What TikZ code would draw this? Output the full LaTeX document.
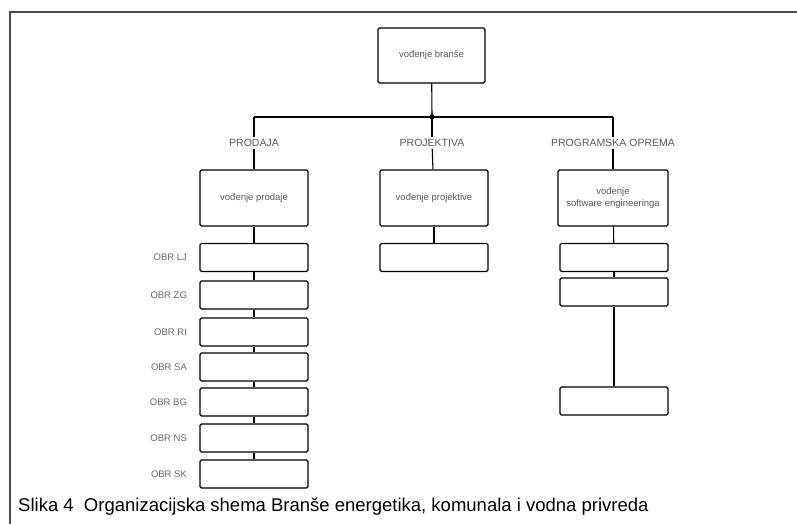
\documentclass[tikz,border=0pt]{standalone}
\usepackage{fontspec}
\setmainfont{Liberation Sans}
\usetikzlibrary{positioning}

\begin{document}
\begin{tikzpicture}[x=1pt,y=-1pt,
  box/.style={draw, line width=1.1pt, rounded corners=1.5pt, minimum width=108pt,
              minimum height=28pt, inner sep=1pt, align=center, text=black!65,
              font=\fontsize{9.5}{12}\selectfont},
  sect/.style={font=\fontsize{10.5}{12}\selectfont, inner sep=2pt, text=black!65},
  lbl/.style={font=\fontsize{9.5}{11}\selectfont, anchor=east, text=black!60},
  link/.style={line width=1.1pt}]
\useasboundingbox (0,0) rectangle (797,524);

% frame of the page
\draw[line width=1.2pt, black!70] (797,12) -- (10,12) -- (10,524);

% top of the tree
\node[box, minimum width=107pt, minimum height=55pt] (vodbr) at (431.5,55.5) {vođenje branše};
\coordinate (busM) at (432,117);
\coordinate (busL) at (254,117);
\coordinate (busR) at (613,117);
\draw[link] (vodbr) -- (busM);
\draw[link] (busL) -- (busR);
\fill (busM) circle (2.6pt);

% sections
\node[sect] (prodaja) at (254,143) {PRODAJA};
\node[sect] (projekt) at (432,143) {PROJEKTIVA};
\node[sect] (progopr) at (613,143) {PROGRAMSKA OPREMA};
\draw[link] (busL) -- (prodaja);
\draw[link] (busM) -- (projekt);
\draw[link] (busR) -- (progopr);

\node[box, minimum height=56pt] (vprod) at (254,198) {vođenje prodaje};
\node[box, minimum height=56pt] (vproj) at (434,198) {vođenje projektive};
\node[box, minimum height=56pt, minimum width=110pt] (vsoft) at (613,198) {vođenje\\software engineeringa};
\draw[link] (prodaja) -- (vprod);
\draw[link] (projekt) -- (vproj);
\draw[link] (progopr) -- (vsoft);

% prodaja: branches
\foreach \n/\yy/\t in {1/257.5/OBR LJ, 2/295/OBR ZG, 3/332/OBR RI, 4/367/OBR SA,
                       5/402/OBR BG, 6/438/OBR NS, 7/474/OBR SK}{
  \node[box] (p\n) at (254,\yy) {};
  \node[lbl] (lp\n) at ([xshift=-9pt]p\n.west) {\t};
}
\draw[link] (vprod) -- (p1);
\foreach \a/\b in {1/2,2/3,3/4,4/5,5/6,6/7}
  \draw[link] (p\a) -- (p\b);

% projektiva
\node[box] (j1) at (434,257.5) {};
\draw[link] (vproj) -- (j1);

% programska oprema
\node[box] (s1) at (614,257.5) {};
\node[box] (s2) at (614,292) {};
\node[box] (s3) at (614,401) {};
\draw[link] (vsoft) -- (s1);
\draw[link] (s1) -- (s2);
\draw[link] (s2) -- (s3);

% caption
\node[anchor=base west, inner sep=0pt, font=\fontsize{18.5}{20}\selectfont] (cap) at (18,511)
  {Slika 4\ \ Organizacijska shema Branše energetika, komunala i vodna privreda};
\end{tikzpicture}
\end{document}
